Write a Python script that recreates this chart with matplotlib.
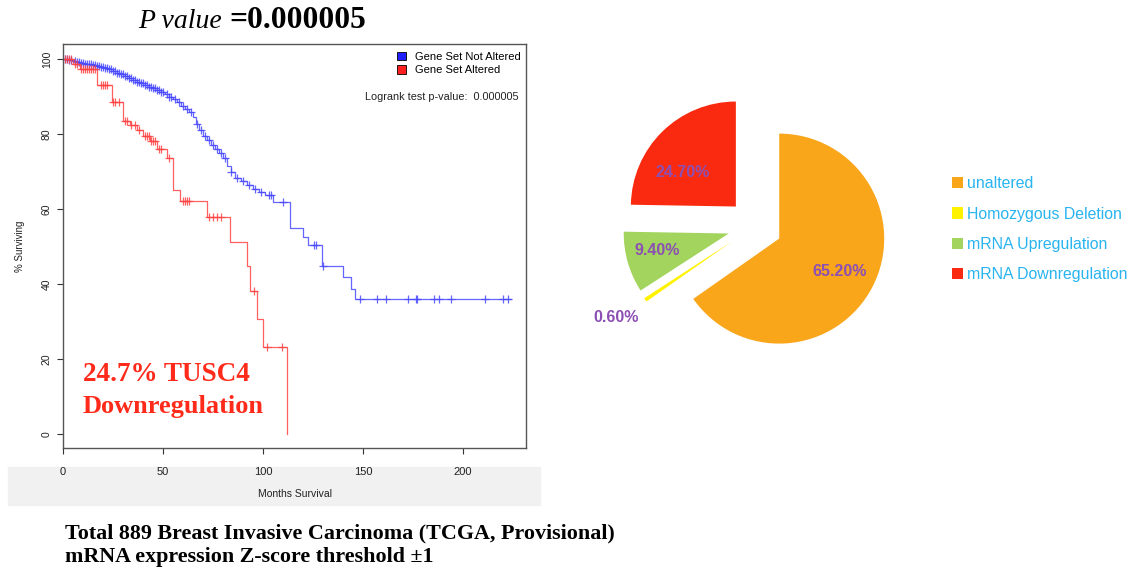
import numpy as np
import matplotlib
matplotlib.use("Agg")
import matplotlib.pyplot as plt
from matplotlib.patches import Patch, Rectangle

plt.rcParams['font.family'] = ['Liberation Sans', 'DejaVu Sans']

# Kaplan-Meier steps: gene set not altered
blue_t = [0, 3, 5, 7, 9, 11, 13, 15, 17, 19, 21, 23, 25, 27, 29, 31, 33, 35, 37, 39,
          41, 43, 45, 47, 49, 51, 53, 55, 57, 59, 61, 63, 65, 66.5, 68, 70, 72, 74, 76,
          78, 80, 82, 84, 86, 89, 92, 95, 98, 101, 105, 113.5, 120, 122.6, 129.3,
          139.8, 143.8, 146]
blue_s = [100, 99.8, 99.6, 99.3, 99.0, 98.8, 98.6, 98.4, 98.1, 97.8, 97.6, 97.3, 96.9,
          96.4, 95.9, 95.4, 95.0, 94.5, 94.0, 93.5, 93.0, 92.6, 92.2, 91.7, 91.2, 90.6,
          89.9, 89.3, 88.6, 87.6, 86.8, 86.0, 84.5, 82.8, 81.0, 79.6, 78.3, 77.2, 76.0,
          75.0, 73.5, 71.5, 69.8, 68.4, 67.4, 66.3, 65.3, 64.5, 63.7, 62.0, 54.9, 52.6,
          50.4, 44.9, 41.9, 38.8, 35.9]
blue_end = 224
blue_cens = [1, 2, 3, 4, 6, 7, 8, 9, 10, 11, 12, 13, 14, 15, 16, 17, 18, 19, 20, 21, 22,
             23, 24, 25, 26, 27, 28, 29, 30, 31, 32, 33, 34, 35, 36, 37, 38, 39, 40, 41,
             42, 43, 44, 45, 46, 47, 48, 49, 50, 52, 53, 54, 56, 58, 60, 62, 64, 67, 69,
             71, 73, 75, 77, 79, 81, 84, 87, 90, 93, 96, 99, 103, 104, 110, 125.5, 126.5,
             130, 148.5, 156.8, 161.5, 172.3, 176.5, 176.8, 185.5, 188.2, 193.8, 211,
             219.8, 222.7]

# Kaplan-Meier steps: gene set altered
red_t = [0, 5, 8.5, 17, 24.3, 30, 33.5, 37, 40, 43.5, 47, 52, 55, 58.5, 72, 83.5, 92,
         93.5, 97, 100, 112]
red_s = [100, 98.8, 97.4, 93.2, 88.5, 83.5, 82.3, 81.0, 79.6, 78.2, 76.0, 73.6, 65.2,
         62.2, 57.8, 51.2, 44.8, 38.1, 30.8, 23.2, 0]
red_cens = [1, 2, 3, 4, 6, 7, 9, 10, 11, 12, 13, 14, 15, 16, 19, 20, 21, 22, 25, 26, 28,
            31, 32, 34, 36, 38, 41, 42, 43, 44, 45, 46, 48, 49, 53, 60, 61, 62, 63, 73,
            75, 77, 79, 95.5, 102, 109.5]

# alteration pie
pie_labels = ['unaltered', 'Homozygous Deletion', 'mRNA Upregulation', 'mRNA Downregulation']
pie_values = [65.2, 0.6, 9.4, 24.7]
pie_colors = ['#F9A61B', '#FFF200', '#A2D45E', '#F92A10']

blue = '#4a4aff'
red = '#ff4444'

fig = plt.figure(figsize=(11.32, 5.73), dpi=100)
W, H = 1132, 573

# light strip behind the x-axis title
fig.patches.append(Rectangle((8 / W, 1 - 505 / H), 532 / W, 38 / H,
                             transform=fig.transFigure, color='#f1f1f1', zorder=-1))

ax = fig.add_axes([63 / W, 1 - 448 / H, 463 / W, 404 / H])


def km(t, s, end, cens, color):
    tt = list(t) + ([end] if end is not None else [])
    ss = list(s) + ([s[-1]] if end is not None else [])
    ax.step(tt, ss, where='post', color=color, lw=0.9, alpha=0.85)
    idx = np.searchsorted(t, cens, side='right') - 1
    ax.plot(cens, np.array(s)[idx], '+', color=color, ms=6, mew=0.9, alpha=0.85)


km(blue_t, blue_s, blue_end, blue_cens, blue)
km(red_t, red_s, None, red_cens, red)

ax.set_xlim(0, 231.5)
ax.set_ylim(-3.73, 104)
ax.set_xticks([0, 50, 100, 150, 200])
ax.set_yticks([0, 20, 40, 60, 80, 100])
ax.tick_params(length=4.5, width=0.8, color='#333333', labelcolor='#222222')
ax.tick_params(axis='x', pad=9, labelsize=8)
ax.tick_params(axis='y', labelsize=7.5)
for lab in ax.get_yticklabels():
    lab.set_rotation(90)
    lab.set_va('center')
for sp in ax.spines.values():
    sp.set_color('#555555')
    sp.set_linewidth(1.0)
ax.set_xlabel('Months Survival', fontsize=7.5, labelpad=9, color='#222222')
ax.set_ylabel('% Surviving', fontsize=7, labelpad=12, color='#222222')

handles = [Patch(facecolor='#2020ff', edgecolor='black', lw=0.6),
           Patch(facecolor='#ff2020', edgecolor='black', lw=0.6)]
ax.legend(handles, ['Gene Set Not Altered', 'Gene Set Altered'], loc='upper right',
          bbox_to_anchor=(1.008, 1.003), frameon=False, fontsize=8, handlelength=0.8,
          handleheight=0.8, handletextpad=0.8, labelspacing=0.3, borderaxespad=0.4)
ax.text(0.983, 0.869, 'Logrank test p-value:  0.000005', transform=ax.transAxes,
        ha='right', va='center', fontsize=7.8, color='#222222')

ax.text(10, 14.1, '24.7% TUSC4', color='#ff2a1a', fontsize=19.5, weight='bold',
        family='Liberation Serif', va='baseline')
ax.text(10, 5.7, 'Downregulation', color='#ff2a1a', fontsize=19.0, weight='bold',
        family='Liberation Serif', va='baseline')

# headline p value
fig.text(222 / W, 1 - 28 / H, 'P value', ha='right', va='baseline', style='italic',
         family='Liberation Serif', fontsize=20)
fig.text(229 / W, 1 - 28 / H, '=0.000005', ha='left', va='baseline', weight='bold',
         family='Liberation Serif', fontsize=22.7)

fig.text(65 / W, 1 - 538 / H, 'Total 889 Breast Invasive Carcinoma (TCGA, Provisional)',
         ha='left', va='baseline', family='Liberation Serif', weight='bold', fontsize=15.85)
fig.text(65 / W, 1 - 562 / H, 'mRNA expression Z-score threshold \u00b11',
         ha='left', va='baseline', family='Liberation Serif', weight='bold', fontsize=15.85)

# pie of alteration types
pax = fig.add_axes([587 / W, 179 / H, 336 / W, 336 / H])
wedges, _ = pax.pie(pie_values, colors=pie_colors, startangle=90, counterclock=False,
                    explode=[0.26] * 4, wedgeprops=dict(linewidth=0))
pax.set_xlim(-1.6, 1.6)
pax.set_ylim(-1.6, 1.6)
label_dist = [0.65, 1.31, 0.70, 0.61]
label_turn = [0, -1.3, -3.5, 12]
for w, v, d, turn in zip(wedges, pie_values, label_dist, label_turn):
    th = np.deg2rad((w.theta1 + w.theta2) / 2 + turn)
    cx, cy = w.center
    pax.text(cx + d * w.r * np.cos(th), cy + d * w.r * np.sin(th) - 0.015, f'{v:.2f}%',
             ha='center', va='center', fontsize=11.5, weight='bold', color='#8C50B4')

fig.legend(wedges, pie_labels, loc='upper left', bbox_to_anchor=(946 / W, 1 - 170 / H),
           frameon=False, fontsize=11.4, labelcolor='#29B4F0', handlelength=0.7,
           handleheight=0.7, handletextpad=0.25, labelspacing=0.96, borderaxespad=0)

fig.savefig('out.png', dpi=100)
